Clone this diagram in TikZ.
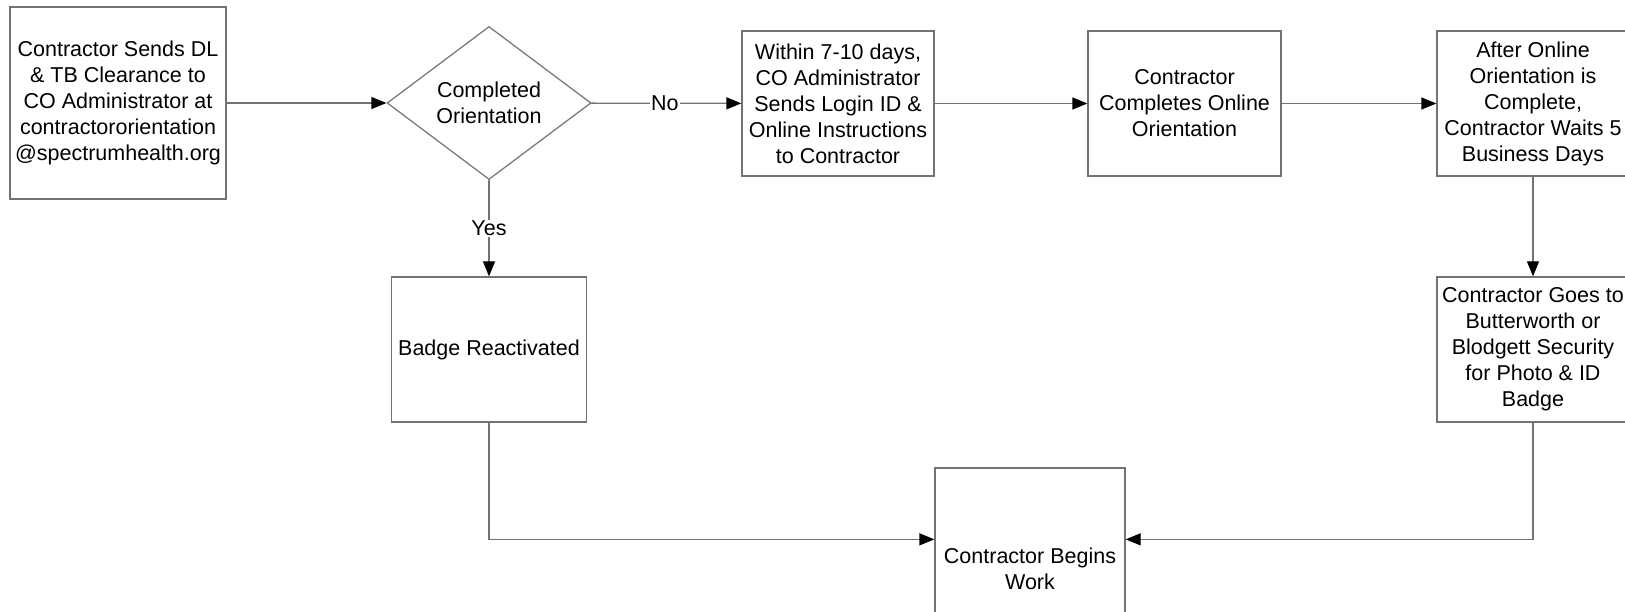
\documentclass[tikz,border=0pt]{standalone}
\usepackage{fontspec}
\setmainfont{Liberation Sans}
\usetikzlibrary{shapes.geometric,arrows.meta}
\definecolor{linegray}{RGB}{115,115,115}
\begin{document}
\begin{tikzpicture}[x=1pt,y=-1pt,
  font=\fontsize{21.5}{26}\selectfont,
  box/.style={draw=linegray,line width=1.3pt,fill=white,rectangle,align=center,inner sep=1pt,text=black},
  dec/.style={draw=linegray,line width=1.2pt,diamond,aspect=1.333,minimum width=204pt,minimum height=153pt,inner sep=0pt,align=center},
  conn/.style={draw=linegray,line width=1.3pt,-{Triangle[length=15pt,width=12pt,fill=black,color=black]}},
  lab/.style={fill=white,inner sep=1pt,text=black}]
\useasboundingbox (0,0) rectangle (1625,612);
\fill[white] (0,0) rectangle (1625,612);
\node[box,minimum width=216pt,minimum height=192pt] (b1) at (118,103) {Contractor Sends DL\\\& TB Clearance to\\CO Administrator at\\contractororientation\\@spectrumhealth.org};
\node[dec] (d) at (489,103) {Completed\\Orientation};
\node[box,minimum width=192pt,minimum height=145pt] (b2) at (838,103.5) {Within 7-10 days,\\CO Administrator\\Sends Login ID \&\\Online Instructions\\to Contractor};
\node[box,minimum width=193pt,minimum height=145pt] (b3) at (1184.5,103.5) {Contractor\\Completes Online\\Orientation};
\node[box,minimum width=192pt,minimum height=145pt] (b4) at (1533,103.5) {After Online\\Orientation is\\Complete,\\Contractor Waits 5\\Business Days};
\node[box,minimum width=192pt,minimum height=145pt] (b5) at (1533,349.5) {Contractor Goes to\\Butterworth or\\Blodgett Security\\for Photo \& ID\\Badge};
\node[box,minimum width=195pt,minimum height=145pt] (br) at (489,349.5) {Badge Reactivated};
\node[box,minimum width=190pt,minimum height=202pt] (bw) at (1030,569) {Contractor Begins\\Work};
\path (bw.north west) ++(0,72) coordinate (bwl);
\path (bw.north east) ++(0,72) coordinate (bwr);
\draw[conn] (b1) -- (d);
\draw[conn] (d) -- node[lab,pos=0.49]{No} (b2);
\draw[conn] (b2) -- (b3);
\draw[conn] (b3) -- (b4);
\draw[conn] (b4) -- (b5);
\draw[conn] (d) -- node[lab,pos=0.5]{Yes} (br);
\draw[conn] (br.south) |- (bwl);
\draw[conn] (b5.south) |- (bwr);
\end{tikzpicture}
\end{document}
